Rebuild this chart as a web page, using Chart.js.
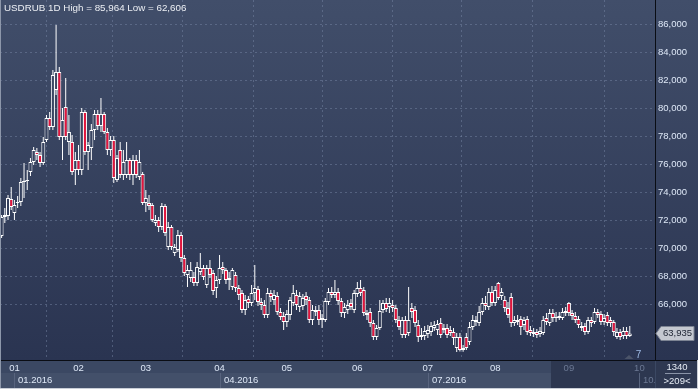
<!DOCTYPE html>
<html>
<head>
<meta charset="utf-8">
<script src="https://cdn.jsdelivr.net/npm/chart.js@4.4.0/dist/chart.umd.min.js"></script>
<style>
html,body{margin:0;padding:0;background:#2c3652;}
canvas{display:block;}
</style>
</head>
<body>
<canvas id="c" width="698" height="389"></canvas>
<script>
// ---- data (USDRUB daily, bar index 0 = 28.12.2015) ----
const open = [
70.89,72.25,72.32,73.54,72.54,73.25,73.32,74.75,74.82,75.46,
76.18,76.89,76.68,76.11,77.75,79.32,78.68,81.32,82.61,77.96,
80.11,77.61,77.61,75.61,76.32,75.61,79.75,76.89,77.18,78.46,
79.61,78.75,79.61,78.32,77.04,77.75,74.89,77.04,75.25,75.25,
76.32,75.25,76.32,75.11,75.32,73.25,73.25,73.11,71.82,72.04,
71.54,73.04,70.11,71.54,69.68,69.89,70.96,69.32,68.11,67.89,
67.96,67.54,68.32,68.61,67.39,68.61,68.25,67.18,67.75,68.68,
68.46,67.75,67.25,68.11,67.18,66.82,65.61,66.39,66.11,66.82,
67.11,66.18,65.96,65.25,66.82,66.32,66.61,65.46,65.18,64.75,
65.25,66.11,66.68,65.82,65.89,66.61,66.32,64.89,65.46,65.61,
64.89,64.89,66.18,66.89,66.68,66.89,66.25,65.39,65.61,66.11,
65.61,66.75,67.18,67.04,65.39,65.46,64.68,63.68,64.32,65.61,
66.11,65.82,65.96,65.75,64.89,63.82,64.89,63.96,65.75,65.61,
64.54,63.68,63.75,63.89,64.04,64.32,64.18,64.68,64.18,64.32,
64.18,64.04,62.89,63.68,62.75,63.68,63.32,64.39,64.75,64.68,
65.46,66.11,65.82,66.89,66.11,67.54,66.61,66.32,65.75,66.54,
64.68,64.75,64.96,64.54,64.96,64.18,63.89,64.04,63.89,63.96,
65.04,64.68,65.39,65.04,65.04,65.04,65.39,66.11,65.39,65.18,
64.96,64.32,64.46,64.04,64.89,64.75,65.46,65.32,64.75,
65.25,64.89,64.75,63.68,64.04,63.75,64.11,63.75
];
const high = [
72.39,72.89,73.82,74.39,73.46,73.75,75.04,76.11,75.61,76.46,
77.25,77.18,76.89,77.96,79.54,79.75,82.75,85.964,82.96,80.04,
82.18,79.54,78.11,76.89,77.39,80.04,79.89,77.61,78.89,79.89,
79.89,80.75,79.75,78.61,78.04,78.04,76.68,77.61,77.04,77.61,
76.46,76.68,76.68,77.04,75.46,74.18,73.82,73.25,72.39,72.25,
73.25,73.18,71.89,71.68,70.32,71.32,71.18,69.54,68.82,69.04,
68.32,69.04,69.68,68.82,68.82,69.18,68.46,68.04,69.54,69.04,
68.61,68.32,68.61,68.32,67.39,67.04,66.68,66.61,67.39,68.82,
67.32,66.46,66.32,67.18,67.04,67.04,66.89,65.75,65.46,65.61,
66.54,67.39,67.04,66.89,66.75,66.89,66.54,65.96,65.89,65.96,
65.32,66.46,67.18,67.25,67.75,67.18,66.46,66.11,66.32,66.39,
67.04,67.61,67.75,67.25,65.61,65.75,64.89,64.54,66.32,66.32,
66.46,66.46,66.32,65.96,65.18,65.11,65.18,67.25,66.11,65.89,
64.89,64.32,64.46,64.54,64.75,64.82,64.89,65.04,64.61,64.61,
64.46,64.32,63.96,63.96,63.11,63.96,64.75,65.25,65.18,65.89,
66.46,66.61,67.18,67.32,67.32,67.61,67.18,66.61,66.18,66.82,
65.18,65.25,65.18,65.11,65.18,64.46,64.32,64.25,64.39,65.18,
65.39,65.68,65.68,65.46,65.46,65.75,65.82,66.18,65.61,65.46,
65.18,64.75,64.68,65.11,65.11,65.75,65.68,65.54,65.32,
65.46,65.11,64.89,64.32,64.25,64.39,64.39,64.46
];
const low = [
70.75,71.82,72.04,72.75,72.04,72.89,73.04,73.61,74.18,75.18,
75.96,76.32,75.82,75.96,77.61,78.46,78.46,80.96,77.75,76.32,
77.75,76.68,75.25,74.54,75.25,75.25,76.68,75.61,76.32,77.75,
78.46,78.32,78.18,76.68,76.61,74.68,74.75,75.04,74.89,75.04,
74.89,74.54,75.04,74.89,73.11,72.61,72.75,71.89,71.61,71.18,
71.32,70.89,69.89,69.89,69.46,69.75,69.04,68.04,67.25,67.61,
67.32,67.32,68.11,67.75,67.18,67.89,66.68,66.46,67.46,68.18,
67.46,67.04,67.04,66.89,66.32,65.39,65.25,65.75,65.89,66.32,
65.89,65.61,65.04,65.04,66.18,65.96,65.25,64.89,64.18,64.39,
64.89,65.89,65.61,65.46,65.61,65.96,64.68,64.54,65.18,64.54,
64.32,64.75,65.96,66.46,66.46,65.96,65.11,65.04,65.32,65.61,
65.39,66.54,66.61,65.18,64.89,64.39,63.46,63.46,64.18,65.39,
65.46,65.39,65.46,64.68,64.18,63.61,63.61,63.75,65.04,64.39,
63.32,63.46,63.46,63.61,63.75,64.11,63.82,63.61,63.96,63.61,
63.75,63.11,62.606,62.64,62.62,62.75,63.11,64.18,64.46,64.46,
65.25,65.61,65.61,65.89,65.89,66.32,66.32,65.46,65.04,64.39,
64.46,64.54,63.82,64.18,63.82,63.75,63.68,63.61,63.68,63.82,
64.54,64.46,64.75,64.75,64.89,64.89,65.18,65.18,64.89,64.68,
64.32,64.11,63.82,63.89,64.39,64.61,65.04,64.54,64.54,
64.46,64.39,63.75,63.54,63.46,63.54,63.54,63.68
];
const close = [
72.25,72.39,73.61,72.96,73.11,73.32,74.75,74.82,74.89,76.18,
77.04,76.68,76.11,77.61,79.32,78.68,82.39,82.61,77.96,79.18,
77.96,78.32,75.46,76.32,75.61,79.75,76.89,77.39,78.46,79.61,
78.75,79.61,78.32,77.04,77.75,75.04,76.46,75.25,76.18,76.32,
75.25,76.32,75.25,76.18,73.25,73.61,73.04,72.04,72.04,71.54,
73.04,71.11,71.54,70.11,70.11,70.96,69.32,68.25,68.46,68.46,
67.54,68.68,68.61,67.96,68.61,68.11,66.96,67.75,68.61,68.46,
67.75,67.89,68.46,67.18,66.68,65.61,66.32,66.11,66.82,67.18,
66.18,65.96,65.25,66.82,66.54,66.68,65.46,65.11,64.75,65.32,
66.32,66.82,65.96,66.61,66.46,66.32,64.89,65.61,65.61,64.89,
65.04,66.25,66.89,66.68,66.89,66.25,65.39,65.82,65.96,65.82,
66.82,67.18,66.82,65.39,65.25,64.68,63.68,64.32,65.54,66.11,
65.68,66.11,65.75,64.89,64.39,64.89,63.82,64.89,65.46,64.68,
63.68,63.82,64.11,64.18,64.46,64.54,64.61,63.82,64.32,63.82,
63.96,63.61,63.68,62.75,62.89,62.89,64.39,64.89,64.89,65.46,
66.11,65.89,66.89,66.11,67.04,66.46,66.89,65.75,65.25,64.68,
64.89,64.89,64.39,64.89,64.04,63.96,64.04,63.82,64.11,64.89,
64.75,65.39,65.04,65.11,65.18,65.46,65.54,65.39,65.18,64.89,
64.54,64.46,64.04,64.89,64.68,65.46,65.25,64.75,65.04,
64.68,64.68,64.04,64.04,63.68,64.11,63.75,63.935
];
// month ticks (bar index of first trading day of each month) and labels
const monthIdx    = [4, 24, 45, 68, 89, 111, 133, 154, 177, 199];
const monthLabels = ['01','02','03','04','05','06','07','08','09','10'];
const quarterIdx    = [4, 68, 133, 199];
const quarterLabels = ['01.2016','04.2016','07.2016','10.2016'];
const yTicks = [66, 68, 70, 72, 74, 76, 78, 80, 82, 84, 86];
const titleText = 'USDRUB 1D High = 85,964 Low = 62,606';

// ---- styles ----
const FONT = "'Liberation Sans', Arial, sans-serif";
const BG_TOP = '#414e6a', BG_BOT = '#2a3451', BG_MID = '#36415e';
const RED = '#e3143c';
const GRID = 'rgba(125,140,170,0.45)';
const LABEL = '#dee8f7';
const DIM = '#6c7994';

let plotGrad = null;
function getGrad(chart){
  const a = chart.chartArea;
  if (!a || !isFinite(a.top) || a.bottom <= a.top) return BG_MID;
  if (!plotGrad) {
    plotGrad = chart.ctx.createLinearGradient(0, a.top, 0, a.bottom);
    plotGrad.addColorStop(0, BG_TOP);
    plotGrad.addColorStop(1, BG_BOT);
  }
  return plotGrad;
}

const wicks = close.map((c, i) => ({x: i, y: [low[i], high[i]]}));
const bodies = close.map((c, i) => ({x: i, y: [open[i], close[i]]}));

const fmt = v => v.toFixed(3).replace('.', ',');
const noPad = s => { s.paddingTop = 0; s.paddingBottom = 0; s.paddingLeft = 0; s.paddingRight = 0; };

const decor = {
  id: 'decor',
  beforeDraw(chart){
    const {ctx, chartArea: a, width, height} = chart;
    ctx.save();
    ctx.fillStyle = getGrad(chart);
    ctx.fillRect(0, 0, width, a.bottom);
    ctx.fillStyle = '#3b4863';
    ctx.fillRect(0, a.bottom, width, height - a.bottom);
    ctx.fillStyle = '#43506a';
    ctx.fillRect(0, a.bottom + 13, a.right, height - a.bottom - 13);
    ctx.fillStyle = '#2d3750';
    ctx.fillRect(551, a.bottom, a.right - 551, height - a.bottom);
    ctx.restore();
  },
  afterDraw(chart){
    const {ctx, chartArea: a, width, height} = chart;
    const xs = chart.scales.x, ys = chart.scales.y;
    ctx.save();
    ctx.font = '9.5px ' + FONT;
    ctx.textBaseline = 'middle';
    ctx.textAlign = 'left';
    ctx.beginPath(); ctx.rect(0, a.bottom, a.right, height - a.bottom); ctx.clip();
    quarterIdx.forEach((q, k) => {
      const x = Math.round(xs.getPixelForValue(q));
      ctx.fillStyle = '#58647e';
      ctx.fillRect(x, a.bottom + 13, 1, height - a.bottom - 14);
      ctx.fillStyle = x > 551 ? DIM : LABEL;
      ctx.fillText(quarterLabels[k], x + 4, a.bottom + 20.5);
    });
    ctx.restore();
    ctx.save();
    ctx.fillStyle = '#0a0d14';
    ctx.fillRect(a.right, 0, 1, a.bottom);
    ctx.fillRect(0, a.bottom, width, 1);
    ctx.fillStyle = '#2e3851';
    ctx.fillRect(a.right + 1, a.bottom + 1, width - a.right - 1, height - a.bottom - 2);
    ctx.fillStyle = '#e6ecf5';
    ctx.font = '9.5px ' + FONT;
    ctx.textAlign = 'center';
    ctx.textBaseline = 'middle';
    ctx.fillText('1340', 677, a.bottom + 7);
    ctx.fillText('>209<', 677, a.bottom + 21);
    ctx.fillStyle = '#8a94a8';
    ctx.fillRect(665, a.bottom + 13, 26, 1);
    const last = close[close.length - 1];
    const py = Math.round(ys.getPixelForValue(last)) + 0.5;
    ctx.beginPath();
    ctx.moveTo(656, py);
    ctx.lineTo(661, py - 7);
    ctx.lineTo(694, py - 7);
    ctx.lineTo(694, py + 7);
    ctx.lineTo(661, py + 7);
    ctx.closePath();
    ctx.fillStyle = '#c4c8d0';
    ctx.fill();
    ctx.strokeStyle = '#7d8493';
    ctx.lineWidth = 1;
    ctx.stroke();
    ctx.fillStyle = '#1c2230';
    ctx.textAlign = 'left';
    ctx.fillText(fmt(last), 663, py);
    ctx.fillStyle = '#eceff4';
    ctx.font = '9.8px ' + FONT;
    ctx.fillText(titleText, 4, 8);
    ctx.fillStyle = '#4b5469';
    ctx.beginPath();
    ctx.moveTo(629, 355); ctx.lineTo(633.5, 359); ctx.lineTo(624.5, 359); ctx.closePath(); ctx.fill();
    ctx.fillStyle = '#9fbbe6';
    ctx.font = '10px ' + FONT;
    ctx.textAlign = 'center';
    ctx.fillText('7', 638.5, 355);
    ctx.fillStyle = '#8d97aa';
    ctx.fillRect(0, 0, 1, height);
    ctx.fillStyle = '#c9ced7';
    ctx.fillRect(0, height - 1, width, 1);
    ctx.fillRect(width - 1, a.bottom, 1, height - a.bottom);
    ctx.restore();
  }
};

new Chart(document.getElementById('c'), {
  type: 'bar',
  data: {
    datasets: [
      {
        label: 'body', data: bodies, order: 1, grouped: false,
        barThickness: 4, inflateAmount: 0,
        borderWidth: 1, borderSkipped: false, borderColor: '#ffffff',
        backgroundColor: c => (close[c.dataIndex] < open[c.dataIndex]) ? RED : getGrad(c.chart)
      },
      {
        label: 'wick', data: wicks, order: 2, grouped: false,
        barThickness: 1, inflateAmount: 0, borderWidth: 0,
        backgroundColor: '#ffffff'
      }
    ]
  },
  options: {
    responsive: false, animation: false,
    layout: {padding: 0},
    plugins: {legend: {display: false}, tooltip: {enabled: false}},
    scales: {
      x: {
        type: 'linear', min: -0.5, max: 203.87, offset: false,
        afterBuildTicks: s => { s.ticks = monthIdx.map(v => ({value: v})); },
        afterFit: s => { s.height = 29; noPad(s); },
        grid: {color: GRID, drawTicks: false, lineWidth: 1},
        border: {display: false, dash: [2, 3]},
        ticks: {
          autoSkip: false, maxRotation: 0, padding: 3,
          font: {family: FONT, size: 9.5},
          color: c => c.index >= 8 ? DIM : LABEL,
          callback: (v, i) => monthLabels[i]
        }
      },
      y: {
        position: 'right', min: 62.036, max: 87.75,
        afterBuildTicks: s => { s.ticks = yTicks.map(v => ({value: v})); },
        afterFit: s => { s.width = 43; noPad(s); },
        grid: {color: GRID, drawTicks: false, lineWidth: 1},
        border: {display: false, dash: [2, 3]},
        ticks: {
          padding: 3, font: {family: FONT, size: 9.5}, color: LABEL,
          callback: v => fmt(v)
        }
      }
    }
  },
  plugins: [decor]
});
</script>
</body>
</html>
